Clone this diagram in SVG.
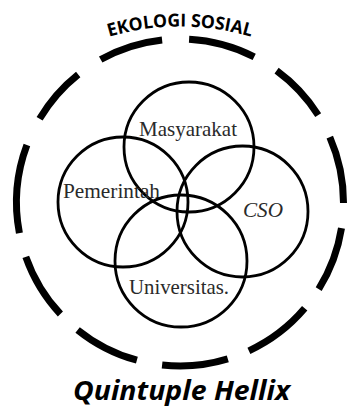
<svg xmlns="http://www.w3.org/2000/svg" width="349" height="407" viewBox="0 0 349 407">
<defs>
<style>
.dash{fill:none;stroke:#000;stroke-width:7;stroke-linecap:butt}
.ring{fill:none;stroke:#000;stroke-width:2.8}
.lbl{font-family:"Liberation Serif","Times New Roman",serif;font-size:21px;fill:#2a2a2a}
.arc{font-family:"Open Sans","Liberation Sans",sans-serif;font-weight:bold;font-size:18px;fill:#000}
.title{font-family:"Open Sans","Liberation Sans",sans-serif;font-weight:bold;font-style:italic;font-size:26px;fill:#000}
</style>
<path id="textArc" d="M 19.3 85 A 250 250 0 0 1 340.7 85"/>
</defs>
<rect width="349" height="407" fill="#fff"/>
<g id="ekologi-sosial">
<path class="dash" d="M 189.1 39.2 A 163.5 163.5 0 0 1 254.2 56.8"/>
<path class="dash" d="M 276.6 70.6 A 163.5 163.5 0 0 1 318.2 115.1"/>
<path class="dash" d="M 329.8 137.1 A 163.5 163.5 0 0 1 343.5 203.1"/>
<path class="dash" d="M 341.5 228.1 A 163.5 163.5 0 0 1 318.7 289.1"/>
<path class="dash" d="M 304.7 308.3 A 163.5 163.5 0 0 1 248.9 350.8"/>
<path class="dash" d="M 227.8 358.9 A 163.5 163.5 0 0 1 162.1 365.0"/>
<path class="dash" d="M 136.9 360.2 A 163.5 163.5 0 0 1 77.6 329.9"/>
<path class="dash" d="M 60.4 314.0 A 163.5 163.5 0 0 1 25.8 256.8"/>
<path class="dash" d="M 19.4 233.1 A 163.5 163.5 0 0 1 26.9 145.0"/>
<path class="dash" d="M 39.6 118.8 A 163.5 163.5 0 0 1 78.2 74.5"/>
<path class="dash" d="M 100.7 59.5 A 163.5 163.5 0 0 1 162.1 40.0"/>
<text class="arc"><textPath href="#textArc" startOffset="50%" text-anchor="middle" textLength="144" lengthAdjust="spacingAndGlyphs">EKOLOGI SOSIAL</textPath></text>
</g>
<g id="masyarakat">
<circle class="ring" cx="189" cy="147" r="65"/>
<text class="lbl" x="139" y="136" textLength="98" lengthAdjust="spacingAndGlyphs">Masyarakat</text>
</g>
<g id="pemerintah">
<circle class="ring" cx="123" cy="202" r="65"/>
<text class="lbl" x="63" y="198" textLength="97" lengthAdjust="spacingAndGlyphs">Pemerintah</text>
</g>
<g id="cso">
<circle class="ring" cx="242.5" cy="211.5" r="65.5"/>
<text class="lbl" x="243" y="217" font-style="italic" textLength="40" lengthAdjust="spacingAndGlyphs">CSO</text>
</g>
<g id="universitas">
<circle class="ring" cx="181" cy="261" r="66"/>
<text class="lbl" x="129" y="294" textLength="100" lengthAdjust="spacingAndGlyphs">Universitas.</text>
</g>
<g id="connectors"/>
<text class="title" x="73" y="400" textLength="217" lengthAdjust="spacingAndGlyphs">Quintuple Hellix</text>
</svg>
